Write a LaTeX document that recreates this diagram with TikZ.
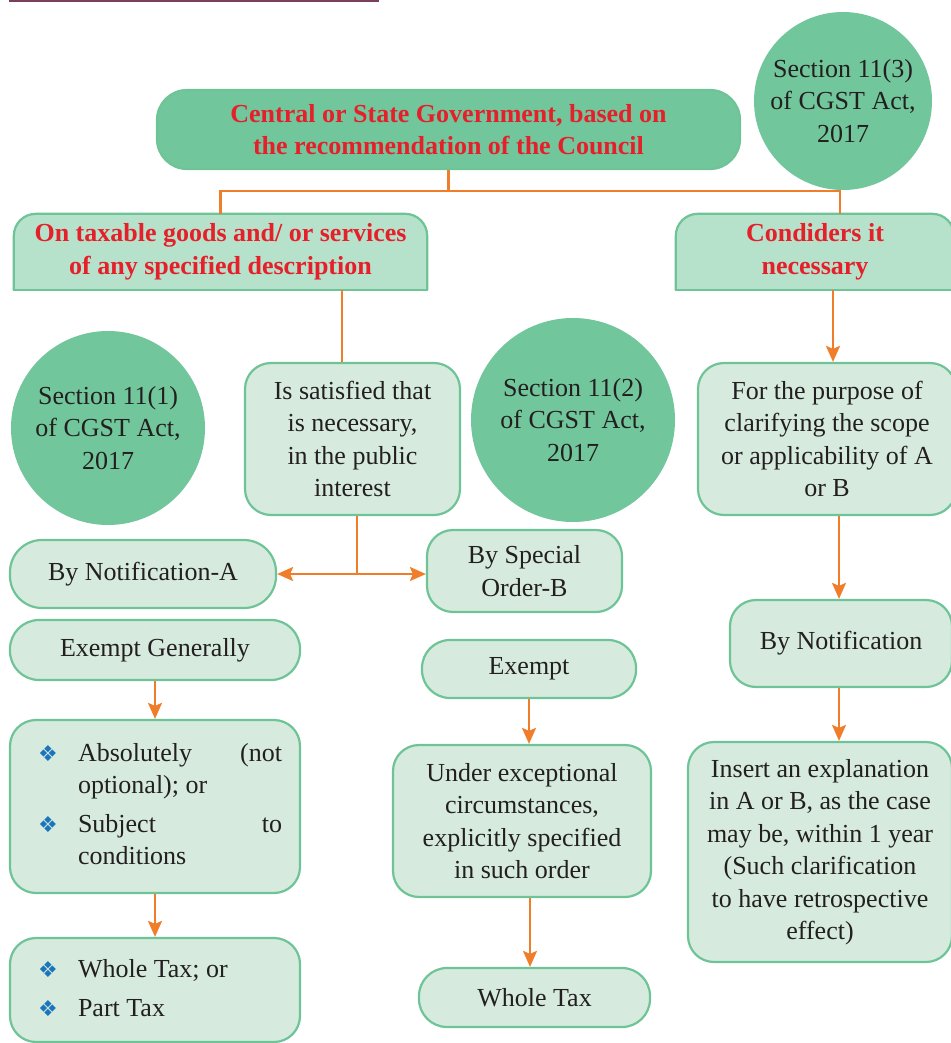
\documentclass[tikz,border=0pt]{standalone}
\usepackage{fontspec}
\setmainfont{Liberation Serif}
\newfontfamily\dejavu{DejaVu Sans}
\usetikzlibrary{arrows.meta,backgrounds,calc}

\definecolor{gdark}{HTML}{72C69C}
\definecolor{ghead}{HTML}{B6E1CA}
\definecolor{gbox}{HTML}{D6EBDE}
\definecolor{gline}{HTML}{6EC497}
\definecolor{orangeline}{HTML}{EF7D2A}
\definecolor{redtxt}{HTML}{E5202A}
\definecolor{txt}{HTML}{231F20}
\definecolor{bulblue}{HTML}{1C75BC}
\definecolor{rulecol}{HTML}{7A3F5C}

% blue diamond bullet
\newcommand\bulmark{\raisebox{0pt}{\dejavu\fontsize{22}{22}\selectfont\color{bulblue}❖}}

\tikzset{
  boxshape/.style={draw=gline, line width=2.2pt, fill=gbox, rounded corners=26pt, inner sep=0pt},
  box/.style={boxshape, align=center},
  topbox/.style={box, fill=gdark, text=redtxt, rounded corners=30pt,
                 font=\fontsize{26}{32.5}\selectfont\bfseries},
  sect/.style={circle, fill=gdark, align=center, inner sep=0pt},
  hdrtext/.style={align=center, inner sep=0pt, text=redtxt,
                  font=\fontsize{26}{32.5}\selectfont\bfseries},
  hdrshape/.style={draw=gline, line width=2.2pt, fill=ghead, rounded corners=22pt},
  link/.style={draw=orangeline, line width=2.2pt},
  tip/.style={},
  arrow/.style={link, -{Stealth[length=16pt,width=14pt,inset=3pt]}},
  twoway/.style={link, {Stealth[length=16pt,width=14pt,inset=3pt]}-{Stealth[length=16pt,width=14pt,inset=3pt]}}
}

\begin{document}
\begin{tikzpicture}[x=1pt, y=-1pt, font=\fontsize{26}{32.5}\selectfont, text=txt]
\useasboundingbox (0,0) rectangle (950,1043);

% rule at the top edge
\coordinate (rule-l) at (9,1);
\coordinate (rule-r) at (379,1);
\draw[rulecol, line width=2pt] (rule-l) -- (rule-r);

% top level
\node[topbox, minimum width=583pt, minimum height=79pt] (gov) at (448.5,129.5)
  {Central or State Government, based on\\the recommendation of the Council};
\node[sect, minimum size=178pt] (s3) at (843,101) {Section 11(3)\\of CGST Act,\\2017};

% headers
\node[hdrtext, minimum width=413pt, minimum height=76pt] (tax) at (220.5,252)
  {On taxable goods and/ or services\\of any specified description};
\node[hdrtext, minimum width=278pt, minimum height=76pt] (need) at (815,252)
  {Condiders it\\necessary};

% middle row
\node[sect, minimum size=194pt] (s1) at (108,428) {Section 11(1)\\of CGST Act,\\2017};
\node[box, minimum width=215pt, minimum height=152pt] (sat) at (352.5,439)
  {Is satisfied that\\is necessary,\\in the public\\interest};
\node[sect, minimum size=204pt] (s2) at (573,420) {Section 11(2)\\of CGST Act,\\2017};
\node[box, minimum width=258pt, minimum height=152pt] (purp) at (827,439)
  {For the purpose of\\clarifying the scope\\or applicability of A\\or B};

% notification / order
\node[box, minimum width=266pt, minimum height=68pt, rounded corners=32pt] (notA) at (143,574) {By Notification-A};
\node[box, minimum width=195pt, minimum height=82pt] (ordB) at (524.5,571) {By Special\\Order-B};
\node[box, minimum width=290pt, minimum height=60pt, rounded corners=29pt] (exgen) at (155,650) {Exempt Generally};
\node[box, minimum width=214pt, minimum height=58pt, rounded corners=28pt] (exm) at (529,669) {Exempt};
\node[box, minimum width=222pt, minimum height=87pt] (bynot) at (841,643.5) {By Notification};

% lower boxes
\node[boxshape, minimum width=290pt, minimum height=173pt] (abs) at (155,806.5)
  {\raisebox{-5pt}{\begin{tabular}{@{\hspace{10pt}}p{40pt}@{}p{204pt}@{}}
   \bulmark & Absolutely\hfill(not\\
            & optional); or\\[6pt]
   \bulmark & Subject\hfill to\\
            & conditions
   \end{tabular}}};
\node[box, minimum width=258pt, minimum height=152pt] (exc) at (522,821)
  {Under exceptional\\circumstances,\\explicitly specified\\in such order};
\node[box, minimum width=264pt, minimum height=220pt] (ins) at (820,852)
  {Insert an explanation\\in A or B, as the case\\may be, within 1 year\\(Such clarification\\to have retrospective\\effect)};
\node[boxshape, minimum width=290pt, minimum height=104pt] (part) at (155,990)
  {\raisebox{-2pt}{\begin{tabular}{@{\hspace{10pt}}p{40pt}@{}p{204pt}@{}}
   \bulmark & Whole Tax; or\\[6.5pt]
   \bulmark & Part Tax
   \end{tabular}}};
\node[box, minimum width=231pt, minimum height=59pt, rounded corners=28pt] (whole) at (534.5,997.5) {Whole Tax};

% header shapes: rounded top, square bottom
\begin{scope}[on background layer]
  \filldraw[hdrshape] (tax.south west) -- (tax.north west) -- (tax.north east) -- (tax.south east);
  \draw[hdrshape, line cap=rect] (tax.south west) -- (tax.south east);
  \filldraw[hdrshape] (need.south west) -- (need.north west) -- (need.north east) -- (need.south east);
  \draw[hdrshape, line cap=rect] (need.south west) -- (need.south east);
\end{scope}

% connectors
\path (gov.south) ++(0,21) coordinate (split);
\coordinate (needin) at ($(need.north)+(25,0)$);
\draw[link] (gov.south) -- (split);
\draw[link] (split) -| (tax.north);
\draw[link] (split) -| (needin);

\coordinate (c342) at (342,0);
\coordinate (c357) at (357,0);
\coordinate (c530) at (530,0);
\coordinate (c833) at (833,0);
\coordinate (c839) at (839,0);

\draw[link] (tax.south -| c342) -- (sat.north -| c342);
\draw[link] (sat.south -| c357) -- (notA.east -| c357);
\draw[twoway] (notA.east) -- (notA.east -| ordB.west);

\draw[arrow] (exgen.south) -- (abs.north);
\draw[arrow] (abs.south) -- (part.north);
\draw[arrow] (exm.south) -- (exm.south |- exc.north);
\draw[arrow] (exc.south -| c530) -- (whole.north -| c530);

\draw[arrow] (need.south -| c833) -- (purp.north -| c833);
\draw[arrow] (purp.south -| c839) -- (bynot.north -| c839);
\draw[arrow] (bynot.south -| c839) -- (ins.north -| c839);
\end{tikzpicture}
\end{document}
